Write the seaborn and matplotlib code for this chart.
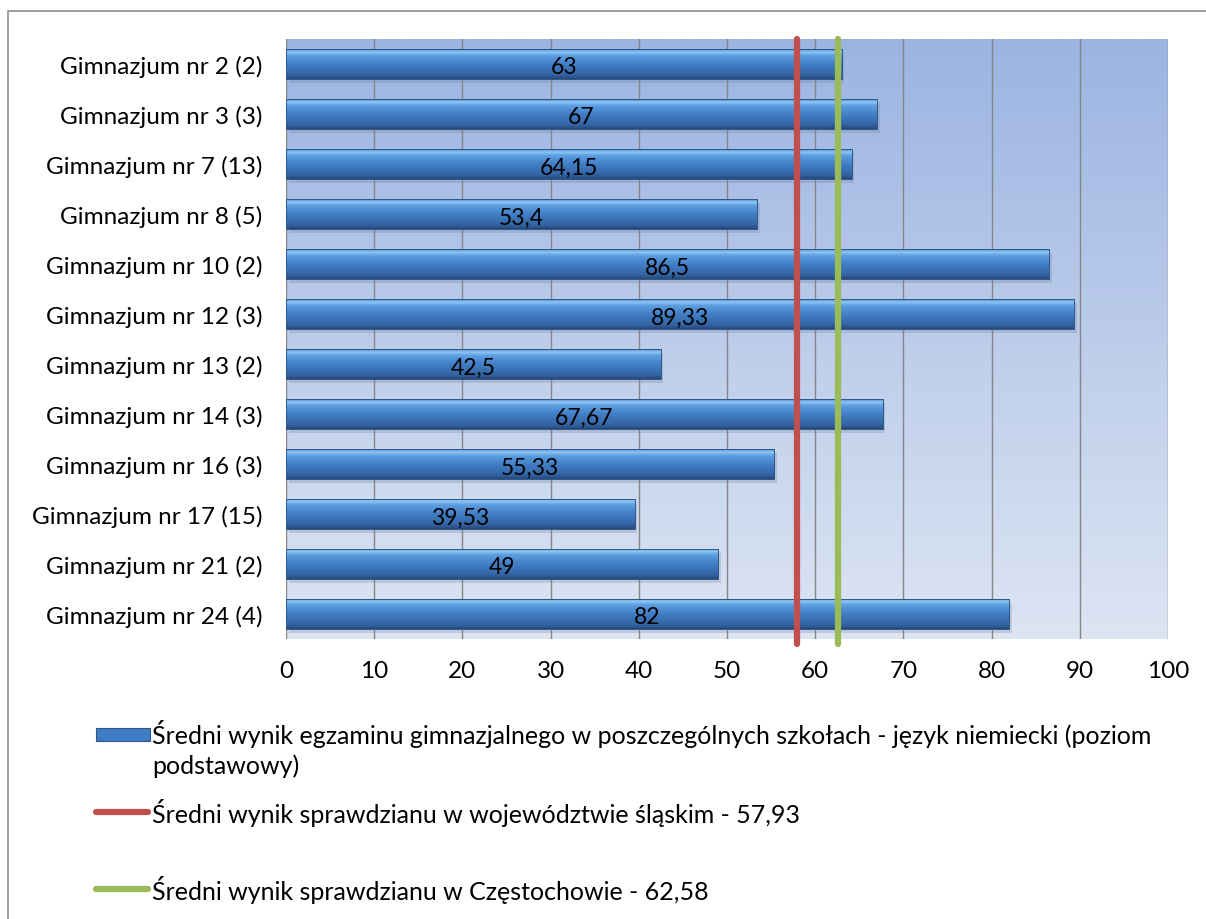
import numpy as np
import pandas as pd
import matplotlib
matplotlib.use("Agg")
import matplotlib.pyplot as plt
import matplotlib.patches as mpatches
from matplotlib.lines import Line2D
from matplotlib.colors import LinearSegmentedColormap
import seaborn as sns

schools = ["Gimnazjum nr 2 (2)", "Gimnazjum nr 3 (3)", "Gimnazjum nr 7 (13)",
           "Gimnazjum nr 8 (5)", "Gimnazjum nr 10 (2)", "Gimnazjum nr 12 (3)",
           "Gimnazjum nr 13 (2)", "Gimnazjum nr 14 (3)", "Gimnazjum nr 16 (3)",
           "Gimnazjum nr 17 (15)", "Gimnazjum nr 21 (2)", "Gimnazjum nr 24 (4)"]
scores = [63, 67, 64.15, 53.4, 86.5, 89.33, 42.5, 67.67, 55.33, 39.53, 49, 82]
value_labels = ["63", "67", "64,15", "53,4", "86,5", "89,33", "42,5", "67,67",
                "55,33", "39,53", "49", "82"]
slaskie_avg = 57.93
czestochowa_avg = 62.58
legend_labels = [
    "Średni wynik egzaminu gimnazjalnego w poszczególnych szkołach - język niemiecki (poziom\npodstawowy)",
    "Średni wynik sprawdzianu w województwie śląskim - 57,93",
    "Średni wynik sprawdzianu w Częstochowie - 62,58",
]
xticks = list(range(0, 101, 10))

sns.set_theme(style="white")
plt.rcParams['font.family'] = ['Lato', 'DejaVu Sans']

W, H = 1206, 920
fig = plt.figure(figsize=(W / 100, H / 100), dpi=100)

# outer frame
fig.patches.append(mpatches.Rectangle((8 / W, -0.01), 1.0, 1 - 12 / H + 0.01,
                                      transform=fig.transFigure, fill=False,
                                      edgecolor="#8c8c8c", linewidth=1.2))

ax = fig.add_axes([286 / W, 1 - 640 / H, 882 / W, 600 / H])

df = pd.DataFrame({"school": schools, "score": scores})
sns.barplot(data=df, x="score", y="school", orient="h", color="#3f7cc4",
            width=0.6, ax=ax, zorder=3, edgecolor="none", linewidth=0)

n = len(schools)
# background gradient
bg = LinearSegmentedColormap.from_list("bg", ["#dde5f3", "#9bb4e2"])
grad = np.linspace(0, 1, 256).reshape(-1, 1)
ax.imshow(grad, aspect="auto", cmap=bg, origin="lower",
          extent=[0, 100, n - 0.5, -0.5], zorder=0)

# bar gradients + soft shadow
barcmap = LinearSegmentedColormap.from_list(
    "bar", [(0, "#4a86c8"), (0.1, "#8fc7f4"), (0.22, "#5c9ee2"),
            (0.5, "#427fc6"), (0.85, "#3465a4"), (1.0, "#27497a")])
for p in list(ax.patches):
    x0, y0 = p.get_x(), p.get_y()
    w, h = p.get_width(), p.get_height()
    ax.add_patch(mpatches.Rectangle((x0 + 0.3, y0 + 0.08), w, h, facecolor="#6b7a90",
                                    alpha=0.25, edgecolor="none", zorder=2.8))
    im = ax.imshow(grad, aspect="auto", cmap=barcmap, origin="upper",
                   extent=[x0, x0 + w, y0 + h, y0], zorder=3.5)
    im.set_clip_path(p)
    ax.add_patch(mpatches.Rectangle((x0, y0), w, h, fill=False,
                                    edgecolor="#2f578a", linewidth=0.7, zorder=3.6))
ax.set_xlim(0, 100)
ax.set_ylim(n - 0.5, -0.5)

for i, (v, lab) in enumerate(zip(scores, value_labels)):
    ax.text(v / 2, i + 0.06, lab, ha="center", va="center", fontsize=16.5,
            color="black", zorder=5)

# reference lines
ax.axvline(slaskie_avg, color="#c0504d", linewidth=4.5, zorder=4,
           ymin=-0.008, ymax=1, solid_capstyle="round", clip_on=False)
ax.axvline(czestochowa_avg, color="#9bbb59", linewidth=4.5, zorder=4,
           ymin=-0.008, ymax=1, solid_capstyle="round", clip_on=False)

ax.set_xticks(xticks)
ax.set_xticklabels([str(t) for t in xticks])
ax.grid(axis="x", color="#868686", linewidth=1.0, zorder=1)
ax.grid(axis="y", visible=False)
ax.set_axisbelow(True)
for s in ax.spines.values():
    s.set_visible(False)
ax.tick_params(axis="both", length=0, labelsize=17.5, colors="black")
ax.tick_params(axis="y", pad=17)
ax.tick_params(axis="x", pad=15)
ax.set_xlabel("")
ax.set_ylabel("")

# legend
fy = lambda y: 1 - y / H
fx = lambda x: x / W
leg_patch = mpatches.Rectangle((fx(96), fy(742)), 54 / W, 13 / H,
                               transform=fig.transFigure, facecolor="#3f7cc4",
                               edgecolor="#2f578a", linewidth=0.8)
fig.patches.append(leg_patch)
leg_ax = fig.add_axes([fx(96), fy(742), 54 / W, 13 / H])
leg_ax.imshow(grad, aspect="auto", cmap=barcmap, origin="upper", extent=[0, 1, 1, 0])
leg_ax.set_xlim(0, 1)
leg_ax.set_ylim(1, 0)
leg_ax.axis("off")
fig.lines.append(Line2D([fx(96), fx(148)], [fy(813), fy(813)],
                        transform=fig.transFigure, color="#c0504d",
                        linewidth=4.5, solid_capstyle="round"))
fig.lines.append(Line2D([fx(96), fx(148)], [fy(890), fy(890)],
                        transform=fig.transFigure, color="#9bbb59",
                        linewidth=4.5, solid_capstyle="round"))
fig.text(fx(152), fy(720), legend_labels[0], ha="left", va="top",
         fontsize=18, linespacing=1.35, color="black")
fig.text(fx(152), fy(813), legend_labels[1], ha="left", va="center",
         fontsize=18, color="black")
fig.text(fx(152), fy(890), legend_labels[2], ha="left", va="center",
         fontsize=18, color="black")

fig.savefig("out.png", dpi=100)
